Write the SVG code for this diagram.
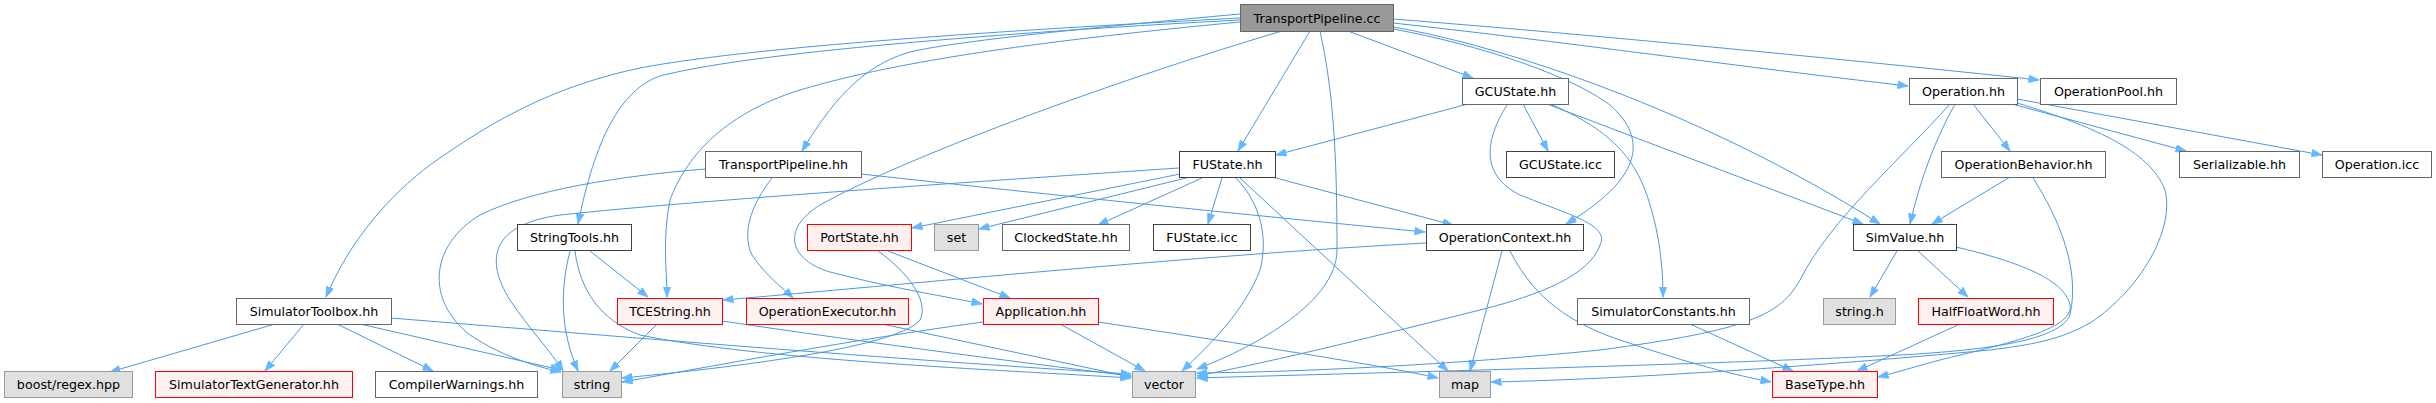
<svg xmlns="http://www.w3.org/2000/svg" width="2436" height="403" viewBox="0 0 2436 403">
<style>
rect{stroke-width:1}
.n{fill:#ffffff;stroke:#666666}
.nd{fill:#ffffff;stroke:#404040}
.r{fill:#fff0f0;stroke:#ff0000}
.g{fill:#e0e0e0;stroke:#999999}
.root{fill:#999999;stroke:#666666}
text{font-family:"DejaVu Sans","Liberation Sans",sans-serif;font-size:12.67px;fill:#000000;text-anchor:middle}
.e path{fill:none;stroke:#4a98e0;stroke-width:1}
</style>
<defs>
<marker id="a" viewBox="0 0 11 8" refX="10.5" refY="4" markerWidth="11" markerHeight="8" markerUnits="userSpaceOnUse" orient="auto">
<path d="M0,0 L11,4 L0,8 z" fill="#63b8ff" stroke="#63b8ff" stroke-width="0.5"/>
</marker>
</defs>
<g class="e" id="edges">
<path marker-end="url(#a)" d="M1240,14 C1120,25 960,40 910,52 C860,66 830,105 802,151"/>
<path marker-end="url(#a)" d="M1240,18 C1050,28 760,45 640,68 C560,85 500,115 430,165 C390,195 350,240 326,297"/>
<path marker-end="url(#a)" d="M1240,20 C1050,30 760,50 660,76 C620,90 595,140 578,224"/>
<path marker-end="url(#a)" d="M1240,22 C1050,40 900,60 800,90 C720,115 685,160 670,200 C662,240 667,270 667,297"/>
<path marker-end="url(#a)" d="M1282,31 C1100,85 900,160 820,205 C780,230 790,260 830,272 C900,290 950,297 982,304"/>
<path marker-end="url(#a)" d="M1310,31 L1238,151"/>
<path marker-end="url(#a)" d="M1320,31 C1333,90 1337,150 1337,250 C1337,300 1260,345 1197,369"/>
<path marker-end="url(#a)" d="M1348,31 L1473,78"/>
<path marker-end="url(#a)" d="M1393,29 C1480,45 1570,75 1610,105 C1650,140 1640,180 1566,224"/>
<path marker-end="url(#a)" d="M1393,27 C1500,45 1700,110 1880,224"/>
<path marker-end="url(#a)" d="M1393,23 C1550,40 1750,68 1908,86"/>
<path marker-end="url(#a)" d="M1393,19 C1600,35 1900,65 2039,80"/>
<path marker-end="url(#a)" d="M1468,104 L1276,155"/>
<path marker-end="url(#a)" d="M1523,104 L1548,151"/>
<path marker-end="url(#a)" d="M1547,104 L1863,224"/>
<path marker-end="url(#a)" d="M1550,104 C1600,125 1630,150 1645,190 C1660,230 1663,270 1663,297"/>
<path marker-end="url(#a)" d="M1507,105 C1485,140 1480,175 1520,195 C1570,215 1610,225 1600,245 C1590,275 1540,295 1480,310 C1380,335 1280,360 1197,376"/>
<path marker-end="url(#a)" d="M1180,174 L912,228"/>
<path marker-end="url(#a)" d="M1190,177 L979,229"/>
<path marker-end="url(#a)" d="M1202,178 L1098,225"/>
<path marker-end="url(#a)" d="M1222,178 L1208,224"/>
<path marker-end="url(#a)" d="M1272,177 L1453,225"/>
<path marker-end="url(#a)" d="M1236,178 C1262,205 1268,240 1260,270 C1245,310 1210,345 1182,371"/>
<path marker-end="url(#a)" d="M1240,178 L1448,371"/>
<path marker-end="url(#a)" d="M1179,168 C1000,180 700,200 560,215 C490,225 485,260 510,300 C530,330 550,350 563,371"/>
<path marker-end="url(#a)" d="M705,169 C620,176 530,190 480,215 C430,245 425,300 470,335 C500,355 530,365 561,372"/>
<path marker-end="url(#a)" d="M772,178 C755,200 740,230 752,255 C765,275 785,290 793,298"/>
<path marker-end="url(#a)" d="M861,174 C1050,195 1300,220 1425,232"/>
<path marker-end="url(#a)" d="M590,251 L648,297"/>
<path marker-end="url(#a)" d="M570,251 C560,290 560,330 578,371"/>
<path marker-end="url(#a)" d="M575,251 C580,290 600,320 640,335 C760,360 1000,370 1131,378"/>
<path marker-end="url(#a)" d="M657,324 L610,371"/>
<path marker-end="url(#a)" d="M722,321 C850,340 1000,360 1131,376"/>
<path marker-end="url(#a)" d="M882,324 L1131,377"/>
<path marker-end="url(#a)" d="M888,251 L1010,298"/>
<path marker-end="url(#a)" d="M878,251 C905,270 930,300 920,320 C900,345 760,365 622,378"/>
<path marker-end="url(#a)" d="M1060,324 L1145,371"/>
<path marker-end="url(#a)" d="M983,322 C850,340 720,365 622,382"/>
<path marker-end="url(#a)" d="M1098,322 C1250,345 1380,365 1438,378"/>
<path marker-end="url(#a)" d="M1426,243 C1200,255 900,285 723,300"/>
<path marker-end="url(#a)" d="M1502,251 L1470,371"/>
<path marker-end="url(#a)" d="M1510,251 C1530,290 1560,320 1620,340 C1680,360 1720,372 1771,382"/>
<path marker-end="url(#a)" d="M275,324 L110,372"/>
<path marker-end="url(#a)" d="M304,324 L265,371"/>
<path marker-end="url(#a)" d="M337,324 L433,371"/>
<path marker-end="url(#a)" d="M360,324 L561,370"/>
<path marker-end="url(#a)" d="M391,318 C600,335 900,360 1131,374"/>
<path marker-end="url(#a)" d="M1690,324 L1793,371"/>
<path marker-end="url(#a)" d="M1973,104 L2010,151"/>
<path marker-end="url(#a)" d="M1955,104 C1935,140 1920,180 1910,224"/>
<path marker-end="url(#a)" d="M1950,104 C1900,160 1830,220 1800,280 C1780,315 1750,330 1600,350 C1450,365 1300,372 1197,373"/>
<path marker-end="url(#a)" d="M2012,104 L2186,151"/>
<path marker-end="url(#a)" d="M2017,99 L2322,155"/>
<path marker-end="url(#a)" d="M2017,103 C2090,125 2150,150 2165,190 C2175,230 2140,290 2090,323 C2060,340 2030,345 1990,350 C1800,368 1600,380 1491,382"/>
<path marker-end="url(#a)" d="M2033,178 C2060,220 2080,270 2070,315 C2060,340 1990,350 1900,355 C1700,365 1400,372 1197,378"/>
<path marker-end="url(#a)" d="M2010,177 L1932,224"/>
<path marker-end="url(#a)" d="M1897,251 L1870,297"/>
<path marker-end="url(#a)" d="M1918,251 L1968,297"/>
<path marker-end="url(#a)" d="M1956,247 C2020,262 2065,280 2070,305 C2075,330 2000,345 1940,360 C1910,368 1895,373 1878,377"/>
<path marker-end="url(#a)" d="M1960,324 L1857,371"/>
</g>
<g id="TransportPipeline.cc"><rect class="root" x="1240.5" y="4.5" width="153" height="27"/><text x="1317" y="22.5">TransportPipeline.cc</text></g>
<g id="GCUState.hh"><rect class="n" x="1462.5" y="78.5" width="106" height="26"/><text x="1515.5" y="96">GCUState.hh</text></g>
<g id="Operation.hh"><rect class="n" x="1909.5" y="78.5" width="108" height="26"/><text x="1963.5" y="96">Operation.hh</text></g>
<g id="OperationPool.hh"><rect class="n" x="2040.5" y="78.5" width="136" height="26"/><text x="2108.5" y="96">OperationPool.hh</text></g>
<g id="TransportPipeline.hh"><rect class="n" x="705.5" y="151.5" width="156" height="26"/><text x="783.5" y="169">TransportPipeline.hh</text></g>
<g id="FUState.hh"><rect class="nd" x="1179.5" y="151.5" width="96" height="26"/><text x="1227.5" y="169">FUState.hh</text></g>
<g id="GCUState.icc"><rect class="nd" x="1506.5" y="151.5" width="108" height="26"/><text x="1560.5" y="169">GCUState.icc</text></g>
<g id="OperationBehavior.hh"><rect class="n" x="1941.5" y="151.5" width="164" height="26"/><text x="2023.5" y="169">OperationBehavior.hh</text></g>
<g id="Serializable.hh"><rect class="n" x="2179.5" y="151.5" width="120" height="26"/><text x="2239.5" y="169">Serializable.hh</text></g>
<g id="Operation.icc"><rect class="n" x="2322.5" y="151.5" width="109" height="26"/><text x="2377" y="169">Operation.icc</text></g>
<g id="StringTools.hh"><rect class="nd" x="517.5" y="224.5" width="114" height="26"/><text x="574.5" y="242">StringTools.hh</text></g>
<g id="PortState.hh"><rect class="r" x="807.5" y="224.5" width="104" height="26"/><text x="859.5" y="242">PortState.hh</text></g>
<g id="set"><rect class="g" x="934.5" y="224.5" width="44" height="26"/><text x="956.5" y="242">set</text></g>
<g id="ClockedState.hh"><rect class="n" x="1002.5" y="224.5" width="127" height="26"/><text x="1066" y="242">ClockedState.hh</text></g>
<g id="FUState.icc"><rect class="nd" x="1153.5" y="224.5" width="97" height="26"/><text x="1202" y="242">FUState.icc</text></g>
<g id="OperationContext.hh"><rect class="nd" x="1426.5" y="224.5" width="157" height="26"/><text x="1505" y="242">OperationContext.hh</text></g>
<g id="SimValue.hh"><rect class="nd" x="1853.5" y="224.5" width="103" height="26"/><text x="1905" y="242">SimValue.hh</text></g>
<g id="SimulatorToolbox.hh"><rect class="n" x="236.5" y="298.5" width="155" height="26"/><text x="314" y="316">SimulatorToolbox.hh</text></g>
<g id="TCEString.hh"><rect class="r" x="617.5" y="298.5" width="105" height="26"/><text x="670" y="316">TCEString.hh</text></g>
<g id="OperationExecutor.hh"><rect class="r" x="746.5" y="298.5" width="162" height="26"/><text x="827.5" y="316">OperationExecutor.hh</text></g>
<g id="Application.hh"><rect class="r" x="983.5" y="298.5" width="115" height="26"/><text x="1041" y="316">Application.hh</text></g>
<g id="SimulatorConstants.hh"><rect class="n" x="1577.5" y="298.5" width="172" height="26"/><text x="1663.5" y="316">SimulatorConstants.hh</text></g>
<g id="string.h"><rect class="g" x="1823.5" y="298.5" width="72" height="26"/><text x="1859.5" y="316">string.h</text></g>
<g id="HalfFloatWord.hh"><rect class="r" x="1918.5" y="298.5" width="135" height="26"/><text x="1986" y="316">HalfFloatWord.hh</text></g>
<g id="boost_regex.hpp"><rect class="g" x="4.5" y="371.5" width="128" height="26"/><text x="68.5" y="389">boost/regex.hpp</text></g>
<g id="SimulatorTextGenerator.hh"><rect class="r" x="155.5" y="371.5" width="197" height="26"/><text x="254" y="389">SimulatorTextGenerator.hh</text></g>
<g id="CompilerWarnings.hh"><rect class="n" x="375.5" y="371.5" width="162" height="26"/><text x="456.5" y="389">CompilerWarnings.hh</text></g>
<g id="string"><rect class="g" x="562.5" y="371.5" width="59" height="26"/><text x="592" y="389">string</text></g>
<g id="vector"><rect class="g" x="1132.5" y="371.5" width="63" height="26"/><text x="1164" y="389">vector</text></g>
<g id="map"><rect class="g" x="1439.5" y="371.5" width="51" height="26"/><text x="1465" y="389">map</text></g>
<g id="BaseType.hh"><rect class="r" x="1772.5" y="371.5" width="105" height="26"/><text x="1825" y="389">BaseType.hh</text></g>
</svg>
